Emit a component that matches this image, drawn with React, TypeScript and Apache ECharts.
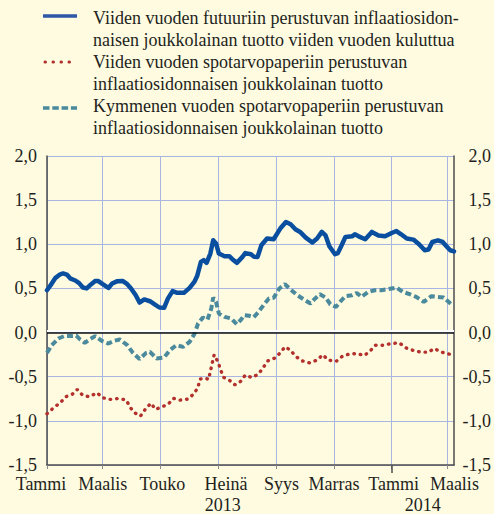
import React, { useEffect, useRef } from 'react';
import * as echarts from 'echarts';

// ---- categories: one per day, 2013-01-01 .. 2014-03-08 ----
const START_UTC = Date.UTC(2013, 0, 1);
const DAY_COUNT = 432;
const categories: string[] = Array.from({ length: DAY_COUNT }, (_, i) =>
  new Date(START_UTC + i * 86400000).toISOString().slice(0, 10)
);

const monthNames: Record<string, string> = {
  '01': 'Tammi',
  '03': 'Maalis',
  '05': 'Touko',
  '07': 'Heinä',
  '09': 'Syys',
  '11': 'Marras',
};
const yearLabelDates: Record<string, string> = {
  '2013-07-06': '2013',
  '2014-02-03': '2014',
};
const yearStartDates = ['2014-01-01'];

const yTicks = { min: -1.5, max: 2, interval: 0.5 };

const legendNames = [
  'Viiden vuoden futuuriin perustuvan inflaatiosidon-\nnaisen joukkolainan tuotto viiden vuoden kuluttua',
  'Viiden vuoden spotarvopaperiin perustuvan\ninflaatiosidonnaisen joukkolainan tuotto',
  'Kymmenen vuoden spotarvopaperiin perustuvan\ninflaatiosidonnaisen joukkolainan tuotto',
];

// [day index since 2013-01-01, value]
const forward5y: [number, number][] = [
  [0, 0.48], [5, 0.555], [9, 0.62], [14, 0.66], [17, 0.67], [21, 0.657], [25, 0.61], [30, 0.59],
  [34, 0.56], [38, 0.51], [42, 0.5], [46, 0.54], [51, 0.585], [54, 0.585], [59, 0.548], [65, 0.506],
  [69, 0.555], [74, 0.58], [80, 0.585], [85, 0.548], [89, 0.5], [94, 0.423], [98, 0.34], [103, 0.375],
  [109, 0.355], [114, 0.32], [119, 0.284], [124, 0.28], [128, 0.385], [133, 0.47], [138, 0.45], [145, 0.45],
  [151, 0.506], [156, 0.574], [159, 0.64], [163, 0.8], [166, 0.82], [169, 0.79], [173, 0.895], [176, 1.045],
  [179, 1.01], [182, 0.895], [188, 0.865], [193, 0.865], [196, 0.834], [201, 0.79], [207, 0.857], [210, 0.9],
  [216, 0.887], [219, 0.86], [223, 0.857], [227, 0.989], [233, 1.065], [240, 1.057], [247, 1.178], [253, 1.253],
  [258, 1.227], [263, 1.17], [268, 1.14], [274, 1.076], [281, 1.02], [286, 1.065], [291, 1.14], [295, 1.1],
  [299, 0.978], [305, 0.887], [308, 0.9], [312, 0.989], [316, 1.083], [323, 1.09], [326, 1.113], [330, 1.09],
  [337, 1.057], [344, 1.14], [351, 1.1], [358, 1.09], [365, 1.128], [370, 1.15], [375, 1.113], [381, 1.065],
  [388, 1.053], [394, 1.0], [400, 0.932], [404, 0.94], [408, 1.026], [414, 1.045], [419, 1.026], [423, 0.978],
  [427, 0.932], [431, 0.92],
];

const spot5y: [number, number][] = [
  [0, -0.92], [7, -0.852], [14, -0.795], [20, -0.727], [27, -0.697], [32, -0.644], [38, -0.712], [45, -0.727],
  [53, -0.682], [59, -0.739], [67, -0.757], [76, -0.746], [84, -0.765], [88, -0.848], [93, -0.909], [99, -0.946],
  [104, -0.87], [110, -0.8], [115, -0.87], [122, -0.84], [128, -0.814], [134, -0.746], [141, -0.765], [149, -0.754],
  [156, -0.69], [160, -0.614], [162, -0.527], [168, -0.516], [171, -0.531], [173, -0.44], [175, -0.346], [177, -0.252],
  [181, -0.331], [184, -0.425], [187, -0.508], [193, -0.539], [199, -0.592], [205, -0.553], [210, -0.482], [217, -0.51],
  [224, -0.47], [229, -0.395], [234, -0.32], [241, -0.29], [247, -0.23], [252, -0.162], [258, -0.2], [263, -0.267],
  [270, -0.32], [278, -0.343], [286, -0.312], [292, -0.252], [298, -0.312], [306, -0.327], [313, -0.267], [320, -0.244],
  [328, -0.237], [336, -0.26], [342, -0.21], [348, -0.143], [356, -0.143], [365, -0.124], [373, -0.116], [380, -0.173],
  [388, -0.203], [396, -0.222], [404, -0.222], [410, -0.18], [418, -0.222], [426, -0.244], [431, -0.25],
];

const spot10y: [number, number][] = [
  [0, -0.23], [5, -0.143], [12, -0.067], [19, -0.037], [24, -0.04], [31, -0.035], [35, -0.078], [40, -0.116],
  [45, -0.078], [51, -0.04], [58, -0.094], [65, -0.124], [71, -0.094], [77, -0.078], [85, -0.143], [91, -0.23],
  [98, -0.3], [105, -0.23], [109, -0.218], [116, -0.293], [124, -0.282], [130, -0.2], [137, -0.143], [144, -0.162],
  [151, -0.105], [156, -0.018], [160, 0.103], [165, 0.171], [170, 0.148], [174, 0.273], [176, 0.397], [179, 0.347],
  [182, 0.216], [188, 0.178], [195, 0.16], [201, 0.095], [205, 0.14], [209, 0.197], [214, 0.19], [219, 0.175],
  [224, 0.234], [230, 0.321], [235, 0.386], [240, 0.393], [246, 0.499], [252, 0.548], [258, 0.488], [265, 0.423],
  [272, 0.375], [279, 0.329], [284, 0.386], [289, 0.435], [295, 0.397], [300, 0.321], [306, 0.291], [312, 0.367],
  [316, 0.412], [323, 0.423], [328, 0.449], [333, 0.404], [340, 0.46], [347, 0.48], [354, 0.48], [361, 0.491],
  [370, 0.51], [377, 0.46], [384, 0.435], [391, 0.404], [399, 0.347], [407, 0.412], [414, 0.404], [420, 0.397],
  [428, 0.321], [431, 0.31],
];

const FONT = '"Liberation Serif", "Times New Roman", serif';
const TEXT = '#231f20';
const BG = '#fefbe1';
const GRID = '#a9b6e4';
const AXIS = '#4d4d4d';
const BLUE = '#0a4f9f';
const BLUE_LEGEND = '#2e57a8';
const RED = '#b3302c';
const TEAL = '#4a8a9c';

// small horizontal nudges (px) of month labels relative to their ticks, as in the original
const labelNudge: Record<string, number> = {
  '2013-01-01': -6,
  '2013-05-01': 2,
  '2013-07-01': 8,
  '2013-09-01': 5,
  '2014-01-01': 2,
  '2014-03-01': 7,
};

const isMonthTick = (_i: number, v: string) =>
  v.slice(8) === '01' && monthNames[v.slice(5, 7)] !== undefined;

export default function App() {
  const ref = useRef<HTMLDivElement>(null);

  useEffect(() => {
    if (!ref.current) return;
    const chart = echarts.init(ref.current, null, { renderer: 'svg' });

    const legendTop = [7, 51, 95];
    const graphic: any[] = [];
    graphic.push({
      type: 'line',
      shape: { x1: 43, y1: 16, x2: 77, y2: 16 },
      style: { stroke: BLUE_LEGEND, lineWidth: 3.5 },
    });
    graphic.push({
      type: 'line',
      shape: { x1: 45, y1: 62, x2: 77, y2: 62 },
      style: { stroke: RED, lineWidth: 3, lineDash: [0.5, 7.5], lineCap: 'round' },
    });
    graphic.push({
      type: 'line',
      shape: { x1: 43, y1: 108, x2: 77, y2: 108 },
      style: { stroke: TEAL, lineWidth: 3.5, lineDash: [6.5, 2.8] },
    });
    legendNames.forEach((name, i) => {
      graphic.push({
        type: 'text',
        x: 93,
        y: legendTop[i],
        style: {
          text: name,
          fontFamily: FONT,
          fontSize: 18,
          lineHeight: 22,
          fill: TEXT,
          verticalAlign: 'top',
          align: 'left',
        },
      });
    });

    const yFmt = (v: number) => v.toFixed(1).replace('.', ',');

    const rich: Record<string, any> = {};
    Object.keys(labelNudge).forEach((d, k) => {
      const s = labelNudge[d];
      rich['n' + k] = {
        fontFamily: FONT,
        fontSize: 18,
        color: TEXT,
        padding: s > 0 ? [0, 0, 0, 2 * s] : [0, -2 * s, 0, 0],
      };
    });
    const nudgeKeys = Object.keys(labelNudge);

    const option: any = {
      animation: false,
      backgroundColor: BG,
      textStyle: { fontFamily: FONT, color: TEXT },
      grid: { left: 47, right: 38, top: 156, bottom: 49, containLabel: false },
      graphic,
      xAxis: [
        {
          type: 'category',
          data: categories,
          boundaryGap: false,
          position: 'bottom',
          axisLine: { show: true, onZero: false, lineStyle: { color: AXIS, width: 1.5 } },
          axisTick: { show: true, interval: isMonthTick, length: 4, lineStyle: { color: '#8a8a8a', width: 1 } },
          axisLabel: {
            show: true,
            interval: isMonthTick,
            formatter: (v: string) => {
              const name = monthNames[v.slice(5, 7)] ?? '';
              const k = nudgeKeys.indexOf(v);
              return k >= 0 ? `{n${k}|${name}}` : name;
            },
            rich,
            fontFamily: FONT,
            fontSize: 18,
            color: TEXT,
            margin: 10,
          },
          splitLine: { show: true, interval: isMonthTick, lineStyle: { color: GRID, width: 1 } },
        },
        {
          type: 'category',
          data: categories,
          boundaryGap: false,
          position: 'bottom',
          axisLine: { show: false, onZero: false },
          axisTick: {
            show: true,
            interval: (_i: number, v: string) => yearStartDates.includes(v),
            length: 8,
            lineStyle: { color: AXIS, width: 1.5 },
          },
          axisLabel: {
            show: true,
            interval: (_i: number, v: string) => yearLabelDates[v] !== undefined,
            formatter: (v: string) => yearLabelDates[v] ?? '',
            fontFamily: FONT,
            fontSize: 18,
            color: TEXT,
            margin: 31,
          },
          splitLine: { show: false },
        },
      ],
      yAxis: [
        {
          type: 'value',
          position: 'left',
          min: yTicks.min,
          max: yTicks.max,
          interval: yTicks.interval,
          axisLine: { show: true, lineStyle: { color: AXIS, width: 1.5 } },
          axisTick: { show: false },
          axisLabel: { formatter: yFmt, fontFamily: FONT, fontSize: 18, color: TEXT, margin: 10 },
          splitLine: { show: true, lineStyle: { color: GRID, width: 1 } },
        },
        {
          type: 'value',
          position: 'right',
          min: yTicks.min,
          max: yTicks.max,
          interval: yTicks.interval,
          axisLine: { show: true, lineStyle: { color: AXIS, width: 1.5 } },
          axisTick: { show: false },
          axisLabel: {
            formatter: yFmt,
            fontFamily: FONT,
            fontSize: 18,
            color: TEXT,
            margin: 37,
            align: 'right',
          },
          splitLine: { show: false },
        },
      ],
      series: [
        {
          name: 'zero',
          type: 'line',
          data: [],
          z: 1,
          silent: true,
          markLine: {
            silent: true,
            symbol: ['none', 'none'],
            label: { show: false },
            animation: false,
            data: [
              { yAxis: 0.022, lineStyle: { color: '#ffffff', width: 2.2, type: 'solid' } },
              { yAxis: 0, lineStyle: { color: '#111111', width: 1.6, type: 'solid' } },
            ],
          },
        },
        {
          name: legendNames[2],
          type: 'line',
          data: spot10y,
          symbol: 'none',
          z: 3,
          lineStyle: { color: TEAL, width: 4, type: [6, 3.2] },
        },
        {
          name: legendNames[1],
          type: 'line',
          data: spot5y,
          symbol: 'none',
          z: 3,
          lineStyle: { color: RED, width: 3.4, type: [0.5, 6], cap: 'round' },
        },
        {
          name: legendNames[0],
          type: 'line',
          data: forward5y,
          symbol: 'none',
          z: 4,
          lineStyle: { color: BLUE, width: 4.5, join: 'round', cap: 'round' },
        },
      ],
    };

    chart.setOption(option);
    return () => chart.dispose();
  }, []);

  return (
    <div
      ref={ref}
      style={{ position: 'fixed', left: 0, top: 0, width: 494, height: 514, background: BG }}
    />
  );
}
